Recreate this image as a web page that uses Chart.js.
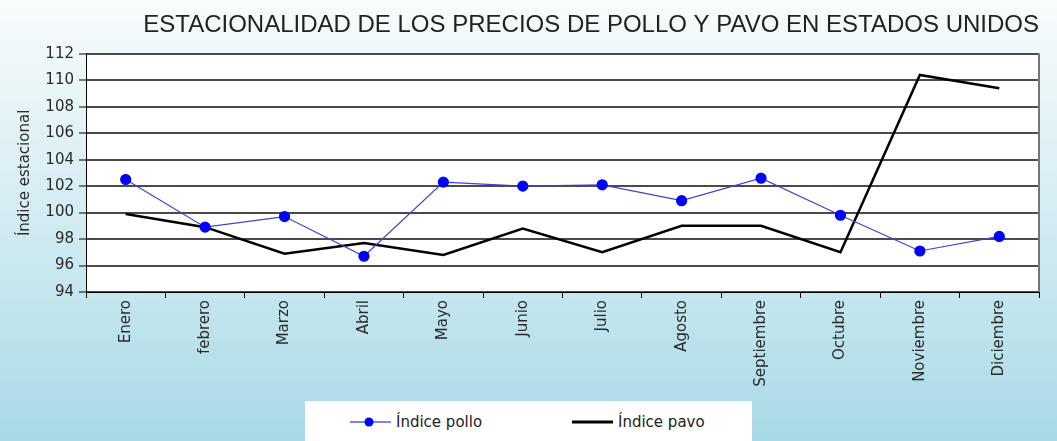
<!DOCTYPE html>
<html>
<head>
<meta charset="utf-8">
<script src="https://cdn.jsdelivr.net/npm/chart.js@4"></script>
<style>
  html, body { margin: 0; padding: 0; }
  body { width: 1057px; height: 441px; overflow: hidden; position: relative; }
  #legend {
    position: absolute; left: 305px; top: 401px; width: 447px; height: 40px;
    background: #fff; font-family: 'DejaVu Sans', sans-serif; font-size: 15px; color: #222;
  }
  #legend .item { position: absolute; top: 12px; height: 18px; line-height: 18px; white-space: nowrap; }
  #legend canvas { position: absolute; top: 2px; left: 0; }
  #legend span { position: absolute; left: 46px; top: 0; }
</style>
</head>
<body>
<canvas id="chart" width="1057" height="441"></canvas>
<div id="legend">
  <div class="item" style="left:45px"><canvas id="mk0" width="42" height="14"></canvas><span>Índice pollo</span></div>
  <div class="item" style="left:267px"><canvas id="mk1" width="42" height="14"></canvas><span>Índice pavo</span></div>
</div>
<script>
const meses = ['Enero', 'febrero', 'Marzo', 'Abril', 'Mayo', 'Junio', 'Julio', 'Agosto', 'Septiembre', 'Octubre', 'Noviembre', 'Diciembre'];
const indicePollo = [102.5, 98.9, 99.7, 96.7, 102.3, 102.0, 102.1, 100.9, 102.6, 99.8, 97.1, 98.2];
const indicePavo = [99.9, 98.9, 96.9, 97.7, 96.8, 98.8, 97.0, 99.0, 99.0, 97.0, 110.4, 109.4];
const yMin = 94, yMax = 112, yStep = 2;

// legend markers: line + dot for pollo, thick line for pavo
function drawMarker(id, kind) {
    const ctx = document.getElementById(id).getContext('2d');
    if (kind === 'pollo') {
        ctx.strokeStyle = '#5a5ae6';
        ctx.lineWidth = 1.5;
        ctx.beginPath(); ctx.moveTo(0, 7); ctx.lineTo(41, 7); ctx.stroke();
        ctx.fillStyle = '#0000ff';
        ctx.beginPath(); ctx.arc(19, 7, 4.5, 0, Math.PI * 2); ctx.fill();
    } else {
        ctx.strokeStyle = '#000';
        ctx.lineWidth = 3;
        ctx.beginPath(); ctx.moveTo(0, 7); ctx.lineTo(41, 7); ctx.stroke();
    }
}
drawMarker('mk0', 'pollo');
drawMarker('mk1', 'pavo');

const backdrop = {
    id: 'backdrop',
    beforeDraw(chart) {
        const { ctx, width, height, chartArea } = chart;
        ctx.save();
        const g = ctx.createLinearGradient(0, 0, 0, height);
        g.addColorStop(0, '#f8fcfd');
        g.addColorStop(0.2, '#eaf5f8');
        g.addColorStop(0.65, '#c6e7ef');
        g.addColorStop(1, '#a8d9e6');
        ctx.fillStyle = g;
        ctx.fillRect(0, 0, width, height);
        ctx.fillStyle = '#ffffff';
        ctx.fillRect(chartArea.left, chartArea.top, chartArea.right - chartArea.left, chartArea.bottom - chartArea.top);
        ctx.restore();
    },
    afterDatasetsDraw(chart) {
        const { ctx, chartArea } = chart;
        ctx.save();
        ctx.strokeStyle = '#777';
        ctx.lineWidth = 2;
        ctx.beginPath();
        ctx.moveTo(chartArea.right, chartArea.top);
        ctx.lineTo(chartArea.right, chartArea.bottom);
        ctx.stroke();
        ctx.restore();
    }
};

new Chart(document.getElementById('chart'), {
    type: 'line',
    data: {
        labels: meses,
        datasets: [{
            label: 'Índice pollo',
            data: indicePollo,
            borderColor: '#4040d4',
            borderWidth: 1.2,
            pointBackgroundColor: '#0000ff',
            pointBorderColor: '#0000ff',
            pointRadius: 5,
            tension: 0
        }, {
            label: 'Índice pavo',
            data: indicePavo,
            borderColor: '#000000',
            borderWidth: 2.5,
            pointRadius: 0,
            tension: 0
        }]
    },
    plugins: [backdrop],
    options: {
        responsive: false,
        animation: false,
        devicePixelRatio: 1,
        layout: {
            padding: { left: 16, right: 18, top: 0, bottom: 43 }
        },
        scales: {
            y: {
                min: yMin,
                max: yMax,
                afterFit: (scale) => { scale.width = 70; },
                ticks: {
                    stepSize: yStep,
                    color: '#2a2a2a',
                    font: { family: 'DejaVu Sans', size: 15 },
                    padding: 5
                },
                grid: {
                    color: '#4a4a4a',
                    lineWidth: 2,
                    tickLength: 7,
                    tickColor: '#000',
                    tickWidth: 1
                },
                border: { color: '#000', width: 1 },
                title: {
                    display: true,
                    text: 'Índice estacional',
                    color: '#2a2a2a',
                    font: { family: 'DejaVu Sans', size: 15 },
                    padding: { top: 0, bottom: 0 }
                }
            },
            x: {
                offset: true,
                afterFit: (scale) => { scale.height = 106; },
                ticks: {
                    minRotation: 90,
                    maxRotation: 90,
                    autoSkip: false,
                    color: '#2a2a2a',
                    font: { family: 'DejaVu Sans', size: 15 },
                    padding: 2
                },
                grid: {
                    offset: true,
                    drawOnChartArea: false,
                    color: '#000',
                    tickLength: 6
                },
                border: { color: '#000', width: 1 }
            }
        },
        plugins: {
            title: {
                display: true,
                text: 'ESTACIONALIDAD DE LOS PRECIOS DE POLLO Y PAVO EN ESTADOS UNIDOS',
                align: 'end',
                color: '#222',
                font: { family: 'Liberation Sans', size: 24, weight: 'normal' },
                padding: { top: 11, bottom: 14 }
            },
            legend: { display: false },
            tooltip: { enabled: false }
        }
    }
});
</script>
</body>
</html>
